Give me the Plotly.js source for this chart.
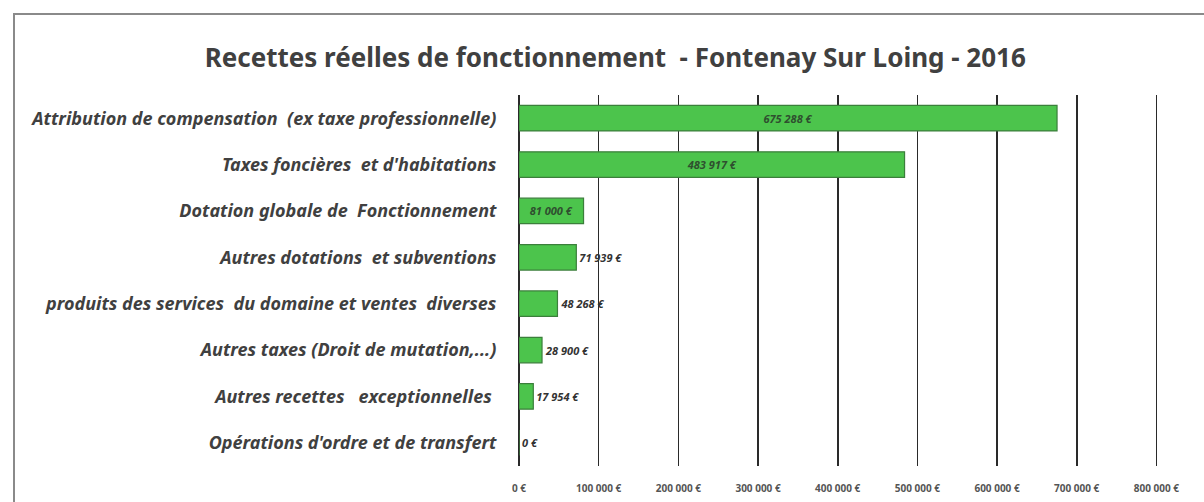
<!DOCTYPE html>
<html>
<head>
<meta charset="utf-8">
<script src="https://cdn.plot.ly/plotly-3.0.1.min.js"></script>
<style>
  html, body { margin: 0; padding: 0; background: #fff; }
  #chart { position: absolute; left: 0; top: 0; width: 1204px; height: 502px; }
  #frame { position: absolute; left: 13px; top: 13px; width: 1200px; height: 500px;
           border-left: 2px solid #8a8a8a; border-top: 2px solid #8a8a8a; pointer-events: none; }
</style>
</head>
<body>
<div id="chart"></div>
<div id="frame"></div>
<script>
const categories = [
  "Attribution de compensation  (ex taxe professionnelle)",
  "Taxes foncières  et d'habitations",
  "Dotation globale de  Fonctionnement",
  "Autres dotations  et subventions",
  "produits des services  du domaine et ventes  diverses",
  "Autres taxes (Droit de mutation,...)",
  "Autres recettes   exceptionnelles ",
  "Opérations d'ordre et de transfert"
];
const values = [675288, 483917, 81000, 71939, 48268, 28900, 17954, 0];
const tickValues = [0, 100000, 200000, 300000, 400000, 500000, 600000, 700000, 800000];
const tickLabels = ["0 €", "100 000 €", "200 000 €", "300 000 €", "400 000 €", "500 000 €", "600 000 €", "700 000 €", "800 000 €"];
const labelPositions = ["inside", "inside", "inside", "outside", "outside", "outside", "outside", "outside"];

function fmt(v) {
  return String(v).replace(/\B(?=(\d{3})+(?!\d))/g, " ") + " €";
}

const trace = {
  type: "bar",
  orientation: "h",
  y: categories,
  x: values,
  text: values.map(fmt),
  textposition: labelPositions,
  insidetextanchor: "middle",
  constraintext: "none",
  cliponaxis: false,
  textfont: { family: "Noto Sans", size: 11, color: "#333333", weight: "bold", style: "italic" },
  insidetextfont: { family: "Noto Sans", size: 11, color: "#2f4f2f", weight: "bold", style: "italic" },
  outsidetextfont: { family: "Noto Sans", size: 11, color: "#333333", weight: "bold", style: "italic" },
  marker: { color: "#4cc44c", line: { color: "#3b7f3b", width: 1.2 } },
  hoverinfo: "skip"
};

const layout = {
  width: 1204,
  height: 502,
  paper_bgcolor: "rgba(0,0,0,0)",
  plot_bgcolor: "rgba(0,0,0,0)",
  margin: { l: 519, r: 46, t: 95, b: 36 },
  bargap: 0.45,
  showlegend: false,
  title: {
    text: "<b>Recettes réelles de fonctionnement  - Fontenay Sur Loing - 2016</b>",
    font: { family: "Noto Sans", size: 26, color: "#404040" },
    x: 0.511, xanchor: "center", y: 0.885, yanchor: "middle"
  },
  xaxis: {
    range: [0, 802000],
    tickvals: tickValues,
    ticktext: tickLabels,
    showgrid: true,
    gridcolor: "#2a2a2a",
    gridwidth: 1.6,
    zeroline: true,
    zerolinecolor: "#2a2a2a",
    zerolinewidth: 1.6,
    showline: false,
    ticks: "outside",
    ticklen: 13,
    tickcolor: "rgba(0,0,0,0)",
    tickfont: { family: "Noto Sans", size: 10, color: "#555555", weight: "bold" },
    fixedrange: true
  },
  yaxis: {
    autorange: "reversed",
    type: "category",
    showgrid: false,
    showline: false,
    ticks: "outside",
    ticklen: 18,
    tickcolor: "rgba(0,0,0,0)",
    tickfont: { family: "Noto Sans", size: 18, color: "#404040", weight: "bold", style: "italic" },
    automargin: false,
    fixedrange: true
  }
};

Plotly.newPlot("chart", [trace], layout, { displayModeBar: false, staticPlot: true });
</script>
</body>
</html>
